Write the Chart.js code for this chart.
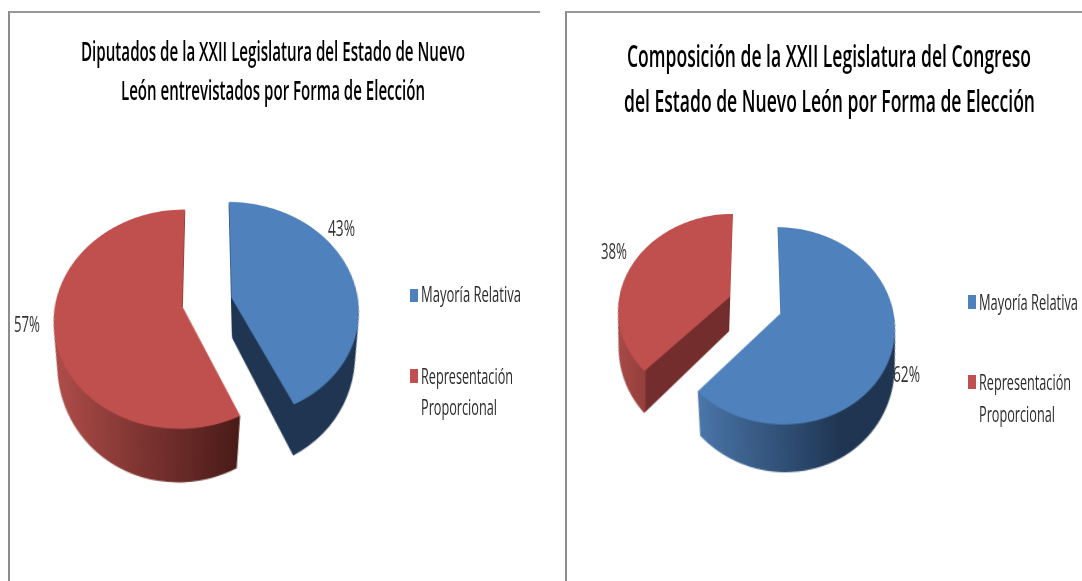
<!DOCTYPE html>
<html lang="es"><head><meta charset="utf-8">
<script src="https://cdn.jsdelivr.net/npm/chart.js@4"></script>
<style>
html,body{margin:0;padding:0;background:#fff;width:1082px;height:581px;overflow:hidden}
#stage{position:absolute;left:0;top:0;width:1082px;height:581px;filter:blur(.45px)}
.panel{position:absolute;border-top:2px solid #989898;border-left:2px solid #8c8c8c;box-sizing:border-box}
.t{position:absolute;white-space:nowrap;transform-origin:0 50%;font-family:"Open Sans",sans-serif}
.sq{position:absolute}
canvas{position:absolute}
</style></head><body><div id="stage"></div>
<script>
const seriesNames = ["Mayoría Relativa", "Representación Proporcional"];
const leftValues = [43, 57];
const rightValues = [62, 38];
const leftTitle = ["Diputados de la XXII Legislatura del Estado de Nuevo", "León entrevistados por Forma de Elección"];
const rightTitle = ["Composición de la XXII Legislatura del Congreso", "del Estado de Nuevo León por Forma de Elección"];
const sliceColors = ["#4f81bd", "#c0504d"];

const stage = document.getElementById("stage");
const mctx = document.createElement("canvas").getContext("2d");

function text(str, x, baseline, targetW, size, weight, color){
  const font = `${weight} ${size}px "Open Sans"`;
  mctx.font = font;
  const m = mctx.measureText(str);
  const L = size * 1.2;
  const el = document.createElement("div");
  el.className = "t";
  el.textContent = str;
  el.style.cssText += `left:${x}px;font-size:${size}px;font-weight:${weight};color:${color};line-height:${L}px;` +
    `top:${baseline - (L/2 + (m.fontBoundingBoxAscent - m.fontBoundingBoxDescent)/2)}px;transform:scaleX(${targetW/m.width})`;
  stage.appendChild(el);
}
function box(x, y, w, h, c){
  const s = document.createElement("div");
  s.className = "sq";
  s.style.cssText = `left:${x}px;top:${y}px;width:${w}px;height:${h}px;background:${c}`;
  stage.appendChild(s);
}
function panel(x, y, w, h){
  const p = document.createElement("div");
  p.className = "panel";
  p.style.cssText = `left:${x}px;top:${y}px;width:${w}px;height:${h}px`;
  stage.appendChild(p);
}

const wallPlugin = {
  id: "wall",
  // Arc.draw shifts a slice by offset/4, widens it and narrows its angles by a
  // circumference-dependent amount; cancel that so both slices share one radius
  // and keep their true angles. The walls use the true angles the scale gave.
  afterDatasetsUpdate(chart, args, o){
    chart.getDatasetMeta(0).data.forEach(arc => {
      arc.$a0 = arc.startAngle; arc.$a1 = arc.endAngle;
      const shift = (arc.options.offset || 0) / 4;
      const fix = 1 - Math.sin(Math.min(Math.PI, arc.circumference || 0));
      const ro = shift * fix;
      const ao = ro / (2 * Math.PI * o.radius);
      arc.outerRadius = o.radius - ro;
      arc.startAngle -= ao;
      arc.endAngle += ao;
    });
  },
  beforeDatasetsDraw(chart, args, o){
    const ctx = chart.ctx;
    chart.getDatasetMeta(0).data.forEach((arc, i) => {
      const shift = (arc.options.offset || 0) / 4;
      const mid = (arc.$a0 + arc.$a1) / 2;
      const cx = arc.x + Math.cos(mid) * shift, cy = arc.y + Math.sin(mid) * shift;
      const R = o.radius;
      const g = ctx.createLinearGradient(arc.x - 1.3*R, 0, arc.x + 1.3*R, 0);
      o.stops[i].forEach(([rel, c]) => g.addColorStop(Math.min(1, Math.max(0, (rel + 1.3) / 2.6)), c));
      ctx.fillStyle = g;
      for (let d = o.depth; d > 0; d -= 0.5){
        const sx = 1 - o.narrow * d / o.depth;
        ctx.save();
        ctx.translate(cx, 0); ctx.scale(sx, 1); ctx.translate(-cx, 0);
        ctx.beginPath();
        ctx.moveTo(cx, cy + d);
        ctx.arc(cx, cy + d, R, arc.$a0, arc.$a1);
        ctx.closePath();
        ctx.fill();
        ctx.restore();
      }
    });
  }
};

function pie(values, ox, oy, cfg){
  const c = document.createElement("canvas");
  const S = 560;
  c.width = S; c.height = S;
  stage.appendChild(c);
  c.style.left = (ox - S/2) + "px";
  c.style.top = (oy - S/2) + "px";
  new Chart(c, {
    type: "pie",
    data: { labels: seriesNames, datasets: [{ data: values, backgroundColor: sliceColors, borderWidth: 0, offset: cfg.offset * 4, hoverOffset: 0 }] },
    options: {
      responsive: false, animation: false, devicePixelRatio: 2,
      radius: cfg.radius,
      events: [],
      plugins: { legend: {display:false}, tooltip: {enabled:false}, wall: {radius: cfg.radius, depth: cfg.depth, narrow: cfg.narrow, stops: cfg.stops} }
    },
    plugins: [wallPlugin]
  });
  c.style.transform = `perspective(${cfg.persp}px) rotateX(${cfg.tilt}deg)`;
  c.style.transformOrigin = "50% 50%";
}

panel(8, 11, 532, 575);
panel(565, 11, 530, 575);

pie(leftValues, 207, 301.5, {
  radius: 127, offset: 25, depth: 47, narrow: 0.08, persp: 600, tilt: 32.4,
  stops: [
    [[-1.3,"#1f3552"],[1.3,"#1f3552"]],
    [[-1.06,"#ab4b48"],[0.23,"#4a1b18"],[1.3,"#4a1b18"]]
  ]
});
pie(rightValues, 755, 305, {
  radius: 112, offset: 27, depth: 40, narrow: 0.06, persp: 480, tilt: 32,
  stops: [
    [[-1.3,"#4f7db5"],[-0.46,"#4a76a9"],[0.68,"#1f3552"],[1.3,"#1f3552"]],
    [[-1.3,"#b04f4c"],[-0.9,"#953f3c"],[-0.9,"#722d2c"],[1.3,"#722d2c"]]
  ]
});

// titles
text(leftTitle[0], 81, 62, 384, 27, 600, "#000");
text(leftTitle[1], 121, 100.5, 304, 27, 600, "#000");
text(rightTitle[0], 627, 68, 404, 31, 600, "#000");
text(rightTitle[1], 624, 112.5, 411, 31, 600, "#000");

// data labels
text(leftValues[0] + "%", 328, 236, 27, 22, 400, "#333");
text(leftValues[1] + "%", 14, 332.5, 26, 22, 400, "#333");
text(rightValues[0] + "%", 893, 382.5, 27, 22, 400, "#333");
text(rightValues[1] + "%", 600.5, 259, 26, 22, 400, "#333");

// legends
const [repr, prop] = seriesNames[1].split(" ");
box(410, 289, 8, 13, sliceColors[0]);
box(410, 369, 8, 14, sliceColors[1]);
text(seriesNames[0], 421, 302.5, 100, 22, 400, "#2a2a2a");
text(repr, 421, 384, 92, 22, 400, "#2a2a2a");
text(prop, 421, 415.5, 76, 22, 400, "#2a2a2a");
box(967.5, 295, 8, 14, sliceColors[0]);
box(967.5, 375, 8, 14, sliceColors[1]);
text(seriesNames[0], 979, 310, 99, 22, 400, "#2a2a2a");
text(repr, 979, 390, 92, 22, 400, "#2a2a2a");
text(prop, 979, 422.5, 76, 22, 400, "#2a2a2a");
</script></body></html>
